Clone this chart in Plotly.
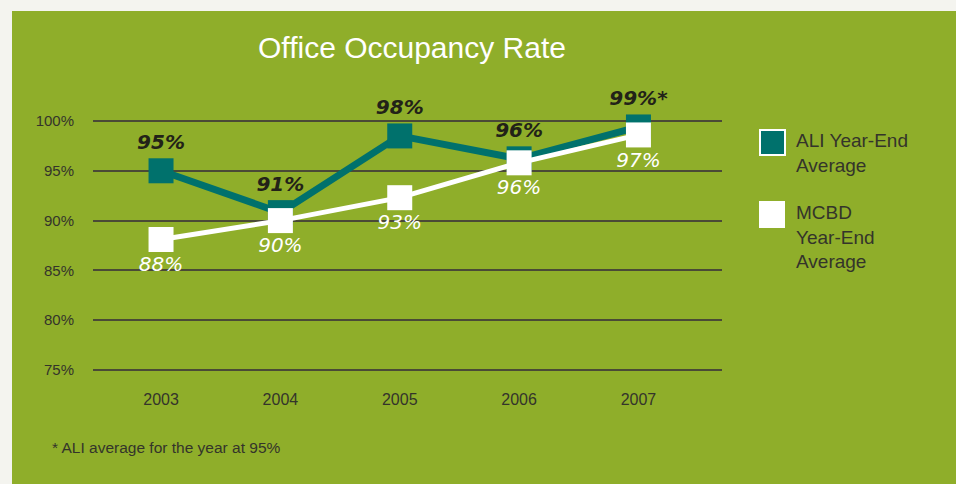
import plotly.graph_objects as go

# data
years = ["2003", "2004", "2005", "2006", "2007"]
ali_values = [95.0, 90.8, 98.5, 96.2, 99.4]
mcbd_values = [88.1, 90.0, 92.3, 95.8, 98.6]
ali_labels = ["95%", "91%", "98%", "96%", "99%*"]
mcbd_labels = ["88%", "90%", "93%", "96%", "97%"]
y_ticks = [75, 80, 85, 90, 95, 100]
y_tick_text = ["75%", "80%", "85%", "90%", "95%", "100%"]

GREEN = "#8fae2a"
TEAL = "#00716c"
DARK = "#34342a"
TXT_FONT = "Liberation Sans"
HAND_FONT = "DejaVu Sans"

fig = go.Figure()

fig.add_trace(go.Scatter(
    x=years, y=ali_values,
    mode="lines+markers+text",
    name="ALI Year-End Average",
    line=dict(color=TEAL, width=7),
    marker=dict(symbol="square", size=25, color=TEAL),
    text=ali_labels,
    textposition="top center",
    textfont=dict(family=HAND_FONT, size=20, color="#222218", weight="bold", style="italic"),
    cliponaxis=False,
))

fig.add_trace(go.Scatter(
    x=years, y=mcbd_values,
    mode="lines+markers+text",
    name="MCBD Year-End Average",
    line=dict(color="white", width=5),
    marker=dict(symbol="square", size=25, color="white"),
    text=mcbd_labels,
    textposition="bottom center",
    textfont=dict(family=HAND_FONT, size=20, color="white", style="italic"),
    cliponaxis=False,
))

# plot area: x 93..722 px, y ~118..372 px (75% line at 370, 100% at 121)
W, H = 956, 484
L, R, T, B = 93, 234, 118, 112
pw, ph = W - L - R, H - T - B


def px(x):
    return (x - L) / pw


def py(y):
    return (H - B - y) / ph


shapes = [
    # green panel
    dict(type="rect", xref="paper", yref="paper", layer="below",
         x0=px(12), x1=px(W + 5), y0=py(H + 5), y1=py(11),
         fillcolor=GREEN, line=dict(width=0)),
    # legend squares
    dict(type="rect", xref="paper", yref="paper",
         x0=px(760), x1=px(785), y0=py(155), y1=py(130),
         fillcolor=TEAL, line=dict(color="white", width=2)),
    dict(type="rect", xref="paper", yref="paper",
         x0=px(759), x1=px(785), y0=py(228), y1=py(201),
         fillcolor="white", line=dict(width=0)),
]

annotations = [
    dict(text="Office Occupancy Rate", xref="paper", yref="paper",
         x=px(412), y=py(47), showarrow=False, xanchor="center", yanchor="middle",
         font=dict(family=TXT_FONT, size=30, color="white")),
    dict(text="ALI Year-End<br>Average", xref="paper", yref="paper",
         x=px(794), y=py(128), showarrow=False, xanchor="left", yanchor="top", align="left",
         font=dict(family=TXT_FONT, size=19, color=DARK)),
    dict(text="MCBD<br>Year-End<br>Average", xref="paper", yref="paper",
         x=px(794), y=py(200), showarrow=False, xanchor="left", yanchor="top", align="left",
         font=dict(family=TXT_FONT, size=19, color=DARK)),
    dict(text="* ALI average for the year at 95%", xref="paper", yref="paper",
         x=px(50), y=py(447), showarrow=False, xanchor="left", yanchor="middle",
         font=dict(family=TXT_FONT, size=15.5, color=DARK)),
]

fig.update_layout(
    width=W, height=H,
    margin=dict(l=L, r=R, t=T, b=B, pad=0),
    paper_bgcolor="#f4f4ef",
    plot_bgcolor="rgba(0,0,0,0)",
    showlegend=False,
    shapes=shapes,
    annotations=annotations,
    font=dict(family=TXT_FONT, color=DARK),
)

fig.update_xaxes(
    type="category",
    range=[-0.57, 4.70],
    showgrid=False, zeroline=False, showline=False,
    ticks="", ticklabelstandoff=16,
    tickfont=dict(family=TXT_FONT, size=16, color=DARK),
)
fig.update_yaxes(
    range=[74.8, 100.3],
    tickvals=y_ticks, ticktext=y_tick_text,
    showgrid=True, gridcolor="#4a4a36", gridwidth=1.5,
    zeroline=False, showline=False, ticks="",
    ticklabelstandoff=18,
    tickfont=dict(family=TXT_FONT, size=15, color=DARK),
)

fig.write_html("out.html", config={"displayModeBar": False},
               post_script="document.body.style.margin='0';")
